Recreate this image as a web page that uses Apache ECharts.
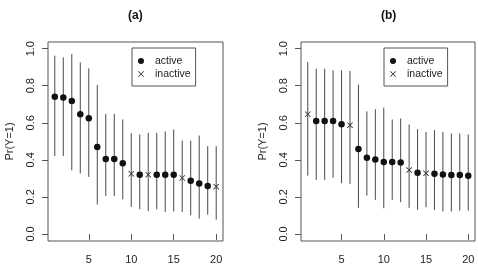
<!DOCTYPE html>
<html>
<head>
<meta charset="utf-8">
<script src="https://cdn.jsdelivr.net/npm/echarts@6/dist/echarts.min.js"></script>
<style>
    html, body { margin: 0; padding: 0; background: #fff; }
    #main { width: 478px; height: 268px; }
</style>
</head>
<body>
<div id="main"></div>
<script>
//数据
var positions = [1, 2, 3, 4, 5, 6, 7, 8, 9, 10, 11, 12, 13, 14, 15, 16, 17, 18, 19, 20];
var xTicks = [5, 10, 15, 20];
var yTicks = [0, 0.2, 0.4, 0.6, 0.8, 1.0];

// panel (a)
var estA = [0.741, 0.736, 0.718, 0.646, 0.625, 0.469, 0.404, 0.404, 0.382, 0.325, 0.320, 0.320, 0.320, 0.320, 0.320, 0.302, 0.287, 0.273, 0.259, 0.255];
var lowA = [0.420, 0.420, 0.344, 0.326, 0.308, 0.159, 0.204, 0.204, 0.187, 0.146, 0.133, 0.124, 0.133, 0.119, 0.121, 0.119, 0.101, 0.083, 0.104, 0.077];
var highA = [0.962, 0.953, 0.971, 0.926, 0.894, 0.804, 0.648, 0.648, 0.618, 0.544, 0.537, 0.546, 0.546, 0.553, 0.564, 0.504, 0.504, 0.531, 0.474, 0.474];
var inactiveA = [0, 0, 0, 0, 0, 0, 0, 0, 0, 1, 0, 1, 0, 0, 0, 1, 0, 0, 0, 1];

// panel (b)
var estB = [0.646, 0.610, 0.610, 0.610, 0.592, 0.587, 0.458, 0.411, 0.402, 0.388, 0.388, 0.386, 0.345, 0.330, 0.327, 0.325, 0.321, 0.318, 0.318, 0.314];
var lowB = [0.315, 0.292, 0.292, 0.303, 0.274, 0.270, 0.141, 0.207, 0.184, 0.139, 0.184, 0.171, 0.141, 0.130, 0.144, 0.130, 0.121, 0.121, 0.126, 0.126];
var highB = [0.928, 0.892, 0.892, 0.883, 0.883, 0.880, 0.806, 0.662, 0.673, 0.682, 0.618, 0.623, 0.591, 0.566, 0.551, 0.560, 0.551, 0.542, 0.542, 0.537];
var inactiveB = [1, 0, 0, 0, 0, 1, 0, 0, 0, 0, 0, 0, 1, 0, 1, 0, 0, 0, 0, 0];

var FONT = 'Liberation Sans, Arial, sans-serif';
var CROSS = 'path://M0,1L1,0L5,4L9,0L10,1L6,5L10,9L9,10L5,6L1,10L0,9L4,5Z';
var boxColor = '#555';
var grids = [
    { left: 48, top: 42, width: 175, height: 199 },
    { left: 301, top: 42, width: 174, height: 199 }
];

function points(est, flags, want) {
    var out = [];
    for (var i = 0; i < positions.length; i++) {
        if (flags[i] === want) out.push([positions[i], est[i]]);
    }
    return out;
}

function bars(low, high) {
    return positions.map(function (x, i) { return [x, low[i], high[i]]; });
}

//误差线
function renderBar(params, api) {
    var p1 = api.coord([api.value(0), api.value(1)]);
    var p2 = api.coord([api.value(0), api.value(2)]);
    return {
        type: 'line',
        shape: { x1: p1[0], y1: p1[1], x2: p2[0], y2: p2[1] },
        style: { stroke: '#4a4a4a', lineWidth: 1 }
    };
}

function xAxisFor(idx) {
    return {
        gridIndex: idx,
        type: 'value',
        min: 0.2,
        max: 20.8,
        axisLine: { show: false },
        splitLine: { show: false },
        axisTick: { show: true, length: 6, customValues: xTicks, lineStyle: { color: boxColor } },
        axisLabel: { customValues: xTicks, margin: 13, fontSize: 11, color: '#222', fontFamily: FONT }
    };
}

function yAxisFor(idx) {
    return {
        gridIndex: idx,
        type: 'value',
        min: -0.038,
        max: 1.036,
        name: 'Pr(Y=1)',
        nameLocation: 'middle',
        nameRotate: 90,
        nameGap: 33,
        nameTextStyle: { fontSize: 11, color: '#222', fontFamily: FONT },
        axisLine: { show: false },
        splitLine: { show: false },
        axisTick: { show: true, length: 6, customValues: yTicks, lineStyle: { color: boxColor } },
        axisLabel: {
            customValues: yTicks, rotate: 90, margin: 12, fontSize: 11, color: '#222', fontFamily: FONT,
            formatter: function (v) { return v.toFixed(1); }
        }
    };
}

function legendFor(left) {
    return {
        orient: 'vertical',
        left: left,
        top: 48,
        padding: [7, 5, 6, 6],
        itemWidth: 18,
        itemHeight: 6,
        itemGap: 1,
        borderColor: boxColor,
        borderWidth: 1,
        borderRadius: 0,
        textStyle: { fontSize: 10.5, lineHeight: 12, color: '#222', fontFamily: FONT },
        data: [
            { name: 'active', icon: 'circle' },
            { name: 'inactive', icon: CROSS }
        ]
    };
}

function seriesFor(idx, est, low, high, flags) {
    return [
        {
            type: 'custom', name: 'bars' + idx, xAxisIndex: idx, yAxisIndex: idx,
            renderItem: renderBar, data: bars(low, high), silent: true, z: 1
        },
        {
            type: 'scatter', name: 'active', xAxisIndex: idx, yAxisIndex: idx,
            symbol: 'circle', symbolSize: 6.5, itemStyle: { color: '#111', opacity: 1 },
            data: points(est, flags, 0), z: 3
        },
        {
            type: 'scatter', name: 'inactive', xAxisIndex: idx, yAxisIndex: idx,
            symbol: CROSS, symbolSize: 6, itemStyle: { color: '#333', opacity: 1 },
            data: points(est, flags, 1), z: 3
        }
    ];
}

var chart = echarts.init(document.getElementById('main'), null, { renderer: 'canvas' });
var option = {
    animation: false,
    backgroundColor: '#fff',
    textStyle: { fontFamily: FONT },
    grid: grids.map(function (g) {
        return { left: g.left, top: g.top, width: g.width, height: g.height, show: true, borderColor: boxColor, borderWidth: 1, backgroundColor: 'transparent' };
    }),
    xAxis: [xAxisFor(0), xAxisFor(1)],
    yAxis: [yAxisFor(0), yAxisFor(1)],
    legend: [legendFor(132), legendFor(384)],
    graphic: [
        { type: 'text', left: 128, top: 10, style: { text: '(a)', font: 'bold 12px ' + FONT, fill: '#111' } },
        { type: 'text', left: 381, top: 10, style: { text: '(b)', font: 'bold 12px ' + FONT, fill: '#111' } }
    ],
    series: seriesFor(0, estA, lowA, highA, inactiveA).concat(seriesFor(1, estB, lowB, highB, inactiveB))
};
chart.setOption(option);
</script>
</body>
</html>
